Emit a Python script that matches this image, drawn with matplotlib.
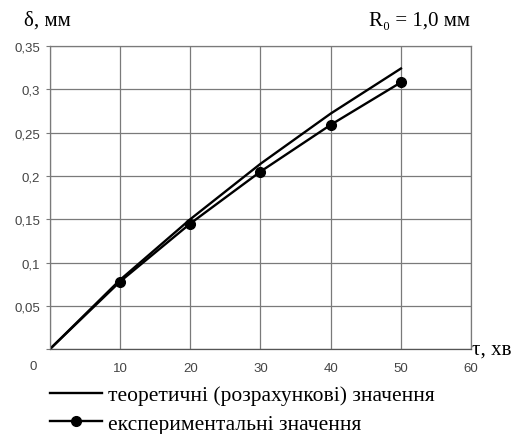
import numpy as np
import matplotlib.pyplot as plt
from matplotlib.lines import Line2D

# дані
tau = [0, 10, 20, 30, 40, 50]
delta_teor = [0, 0.080, 0.150, 0.214, 0.272, 0.324]
delta_exp = [0, 0.078, 0.145, 0.205, 0.259, 0.308]
x_ticks = [0, 10, 20, 30, 40, 50, 60]
y_ticks = [0, 0.05, 0.1, 0.15, 0.2, 0.25, 0.3, 0.35]
y_labels = ['', '0,05', '0,1', '0,15', '0,2', '0,25', '0,3', '0,35']

serif = ['Liberation Serif', 'DejaVu Serif']
sans = ['Liberation Sans', 'DejaVu Sans']
tick_col = '#444444'
grid_col = '#7a7a7a'

fig = plt.figure(figsize=(5.3, 4.35), dpi=100)
ax = fig.add_axes([0.094, 0.195, 0.795, 0.697])

ax.plot(tau, delta_teor, color='black', lw=1.7)
ax.plot(tau, delta_exp, color='black', lw=1.7)
ax.plot(tau[1:], delta_exp[1:], 'o', color='black', ms=7)

ax.set_xlim(0, 60)
ax.set_ylim(0, 0.35)
ax.set_xticks(x_ticks)
ax.set_xticklabels([''] + [str(t) for t in x_ticks[1:]], family=sans, fontsize=9.5, color=tick_col)
ax.set_yticks(y_ticks)
ax.set_yticklabels(y_labels, family=sans, fontsize=9.5, color=tick_col)
ax.tick_params(axis='x', length=0, pad=9)
ax.tick_params(axis='y', length=3, color=grid_col, pad=4)
ax.grid(True, color=grid_col, lw=0.9)
for s in ax.spines.values():
    s.set_color(grid_col)
    s.set_linewidth(0.9)
ax.spines['bottom'].set_color('#555555')

fig.text(33/530, 1 - 367/435, '0', family=sans, fontsize=9.5, color=tick_col, ha='center', va='center')
fig.text(24/530, 1 - 21/435, 'δ, мм', family=serif, fontsize=15, ha='left', va='center')
fig.text(369/530, 1 - 21/435, 'R₀ = 1,0 мм', family=serif, fontsize=15, ha='left', va='center')
fig.text(472/530, 1 - 350/435, 'τ, хв', family=serif, fontsize=15, ha='left', va='center')

handles = [Line2D([], [], color='black', lw=1.7),
           Line2D([], [], color='black', lw=1.7, marker='o', ms=7)]
labels = ['теоретичні (розрахункові) значення', 'експериментальні значення']
fig.legend(handles, labels, loc='upper left', bbox_to_anchor=(50/530, 1 - 386/435),
           frameon=False, prop={'family': serif, 'size': 15.5}, handlelength=2.4,
           handletextpad=0.3, labelspacing=0.4, borderaxespad=0, borderpad=0)

fig.savefig('out.png', dpi=100)
